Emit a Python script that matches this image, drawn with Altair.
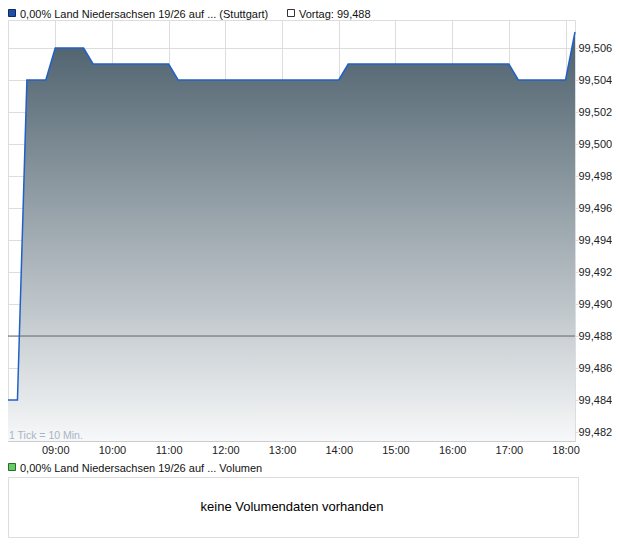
import altair as alt
import pandas as pd

# ---- data ----
times = ["08:10", "08:20", "08:30", "08:50", "09:00", "09:30", "09:40",
         "11:00", "11:10", "14:00", "14:10", "17:00", "17:10", "18:00", "18:10"]
prices = [99.484, 99.484, 99.504, 99.504, 99.506, 99.506, 99.505,
          99.505, 99.504, 99.504, 99.505, 99.505, 99.504, 99.504, 99.507]
prev_close = 99.488

y_ticks = [99.482, 99.484, 99.486, 99.488, 99.490, 99.492, 99.494,
           99.496, 99.498, 99.500, 99.502, 99.504, 99.506]
x_ticks = ["09:00", "10:00", "11:00", "12:00", "13:00", "14:00",
           "15:00", "16:00", "17:00", "18:00"]
x_domain = ["08:10", "18:10"]
y_domain = [99.48144, 99.50775]

title_main = "0,00% Land Niedersachsen 19/26 auf ... (Stuttgart)"
title_prev = "Vortag: " + f"{prev_close:.3f}".replace(".", ",")
title_vol = "0,00% Land Niedersachsen 19/26 auf ... Volumen"
note_tick = "1 Tick = 10 Min."
note_vol = "keine Volumendaten vorhanden"


def to_min(t):
    h, m = t.split(":")
    return int(h) * 60 + int(m)


df = pd.DataFrame({"m": [to_min(t) for t in times], "p": prices})

FONT = "Liberation Sans"
W, H = 567, 421

xscale = alt.Scale(domain=[to_min(t) for t in x_domain], nice=False, zero=False)
yscale = alt.Scale(domain=y_domain, nice=False, zero=False)

xaxis = alt.Axis(
    values=[to_min(t) for t in x_ticks], tickCount=len(x_ticks) + 2,
    labelExpr="(datum.value < 600 ? '0' : '') + floor(datum.value/60) + ':00'",
    grid=True, gridColor="#dddddd", ticks=False, domainColor="#cccccc",
    labelFontSize=11, labelColor="#222222", labelFont=FONT, labelPadding=3,
    labelOverlap=False, title=None,
)
yaxis = alt.Axis(
    orient="right", values=y_ticks, tickCount=len(y_ticks) + 2,
    labelExpr="replace(format(datum.value, '.3f'), '.', ',')",
    grid=True, gridColor="#dddddd", tickColor="#dddddd", tickSize=3,
    domain=False, labelFontSize=11, labelColor="#222222", labelFont=FONT,
    labelPadding=0, labelOverlap=False, title=None,
)

base = alt.Chart(df)

area = base.mark_area(
    color=alt.Gradient(
        gradient="linear",
        stops=[alt.GradientStop(color="#4b5f6b", offset=0),
               alt.GradientStop(color="#f7f8f9", offset=1)],
        x1=1, x2=1, y1=0, y2=1,
    )
).encode(
    x=alt.X("m:Q", scale=xscale, axis=xaxis),
    y=alt.Y("p:Q", scale=yscale, axis=yaxis),
    y2=alt.Y2(datum=y_domain[0]),
)

line = base.mark_line(color="#2060c8", strokeWidth=1.5).encode(
    x=alt.X("m:Q", scale=xscale), y=alt.Y("p:Q", scale=yscale)
)

prev_rule = alt.Chart(pd.DataFrame({"p": [prev_close]})).mark_rule(
    color="#666666", strokeWidth=1
).encode(y=alt.Y("p:Q", scale=yscale))

one = pd.DataFrame({"k": [0]})


def box(x1, x2, y1, y2, fill, stroke):
    return alt.Chart(one).mark_rect(fill=fill, stroke=stroke, strokeWidth=1).encode(
        x=alt.value(x1), x2=alt.value(x2), y=alt.value(y1), y2=alt.value(y2)
    )


def label(txt, x, y, size=11, color="#111111", align="left", baseline="alphabetic"):
    return alt.Chart(pd.DataFrame({"t": [txt]})).mark_text(
        font=FONT, fontSize=size, color=color, align=align, baseline=baseline
    ).encode(x=alt.value(x), y=alt.value(y), text="t:N")


deco = [
    # top legend
    box(0.5, 7.5, -10.5, -3.5, "#1f50a8", "#0d2a66"),
    label(title_main, 12, -2),
    box(279.5, 286.5, -10.5, -3.5, "#ffffff", "#333333"),
    label(title_prev, 291, -2),
    # tick note
    label(note_tick, 1, 419, size=10.5, color="#a8b4c4"),
    # volume panel
    box(0.5, 7.5, 443.5, 450.5, "#66cc66", "#2a6a2a"),
    label(title_vol, 12, 452),
    box(0.5, 570.5, 457.5, 517.5, "#ffffff", "#dddddd"),
    label(note_vol, 284, 487, size=13, color="#000000", align="center", baseline="middle"),
]

chart = alt.layer(area, prev_rule, line, *deco).properties(
    width=W, height=H,
    autosize=alt.AutoSizeParams(type="none"),
    padding={"left": 0, "top": 12, "right": 37, "bottom": 97},
).configure_view(stroke="#dddddd").configure(font=FONT)

chart.save("out.html", embed_options={"renderer": "svg", "actions": False})
